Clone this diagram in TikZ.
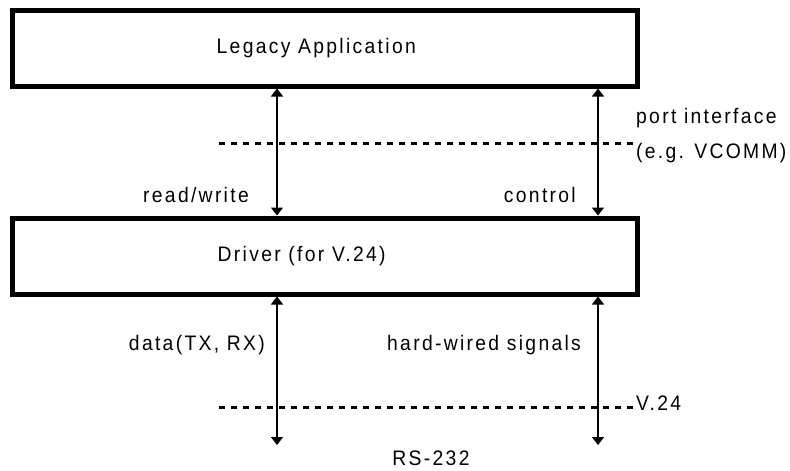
\documentclass[tikz,border=0pt]{standalone}
\usepackage{fontspec}
\setmainfont{Liberation Sans}[LetterSpace=11,FakeStretch=0.92]
\usetikzlibrary{positioning,calc,arrows.meta}

\begin{document}
\begin{tikzpicture}[x=1pt,y=-1pt,
    layer/.style={draw,line width=5pt,minimum width=625pt,minimum height=76pt},
    link/.style={line width=1.2pt,{Triangle[length=8pt,width=12pt]}-{Triangle[length=8pt,width=12pt]}},
    border/.style={line width=3pt,dash pattern=on 6pt off 6pt},
    lbl/.style={font=\fontsize{21}{25}\selectfont,inner sep=0pt}]
    \useasboundingbox (0,0) rectangle (790,471);

    % Layers
    \node[layer] (app) at (324.5,48) {};
    \node[layer] (drv) at (324.5,256) {};
    \node[lbl,anchor=west] (apptxt) at ([xshift=207pt]app.west) {Legacy Application};
    \node[lbl,anchor=west] (drvtxt) at ([xshift=208pt]drv.west) {Driver (for V.24)};

    % Interface lines
    \coordinate (portl) at (219,143);
    \coordinate (portr) at (635,143);
    \coordinate (v24l) at (219,407);
    \coordinate (v24r) at (635,407);
    \draw[border] (portl) -- (portr);
    \draw[border] (v24l) -- (v24r);

    % Connections
    \coordinate (dataend) at (277,445);
    \coordinate (sigend) at (598,445);
    \draw[link] (app.south -| dataend) -- (drv.north -| dataend);
    \draw[link] (app.south -| sigend) -- (drv.north -| sigend);
    \draw[link] (drv.south -| dataend) -- (dataend);
    \draw[link] (drv.south -| sigend) -- (sigend);

    % Labels
    \node[lbl,anchor=east] (rw) at (249,195) {read/write};
    \node[lbl,anchor=east] (ctrl) at (576,195) {control};
    \node[lbl,anchor=west] (port) at (636,118) {port interface};
    \node[lbl,anchor=west] (vcomm) at (636,153) {(e.g. VCOMM)};
    \node[lbl,anchor=east] (data) at (265,345) {data(TX, RX)};
    \node[lbl,anchor=west] (hw) at (387,345) {hard-wired signals};
    \node[lbl,anchor=west] (v24) at (636,403) {V.24};
    \node[lbl] (rs) at (431,458) {RS-232};
\end{tikzpicture}
\end{document}
